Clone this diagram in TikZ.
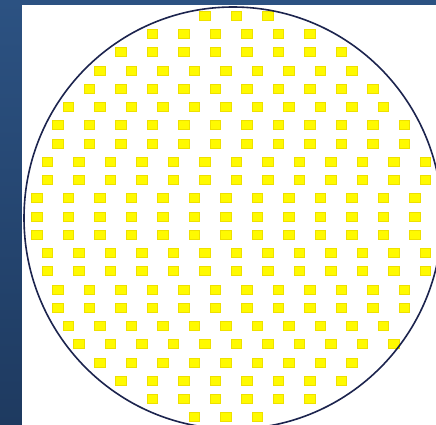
\documentclass[tikz,border=0pt]{standalone}
\usepackage{tikz}
\definecolor{slate}{HTML}{2C5282}
\definecolor{slatedeep}{HTML}{1E3A60}
\definecolor{rimnavy}{HTML}{1C244E}
\definecolor{dieyellow}{HTML}{FFFA00}
\definecolor{dieedge}{HTML}{EEE000}

\begin{document}
\begin{tikzpicture}[
  x=1pt, y=-1pt,
  die/.style={fill=dieyellow, draw=dieedge, line width=0.3pt},
  rim/.style={draw=rimnavy, line width=1.6pt}
]
  \useasboundingbox (0,0) rectangle (436,425);
  \clip (0,0) rectangle (436,425);
  \shade[top color=slate, bottom color=slatedeep] (0,0) rectangle (436,425);
  \fill[white] (22,5) rectangle (436,425);
  % rows of dies: row / first x / count
  \foreach \row/\xa/\cnt in {1/204.5/3, 2/152/6, 3/120.5/8, 4/99.5/9, 5/89/10,
      6/68/11, 7/57.5/12, 8/57.5/12, 9/47/13, 10/47/13, 11/36.5/13, 12/36.5/13,
      13/36.5/13, 14/47/13, 15/47/13, 16/57.5/12, 17/57.5/12, 18/68/11,
      19/78.5/11, 20/99.5/9, 21/120.5/8, 22/152/6, 23/194/3} {
    \pgfmathsetmacro\ya{15.5+18.25*(\row-1)}
    \foreach \k in {1,...,\cnt} {
      \path[die] ({\xa+31.5*(\k-1)-5.25},{\ya-4.5}) rectangle ++(10.5,9);
    }
  }
  \draw[rim] (233,218) ellipse [x radius=209pt, y radius=211pt];
\end{tikzpicture}
\end{document}
